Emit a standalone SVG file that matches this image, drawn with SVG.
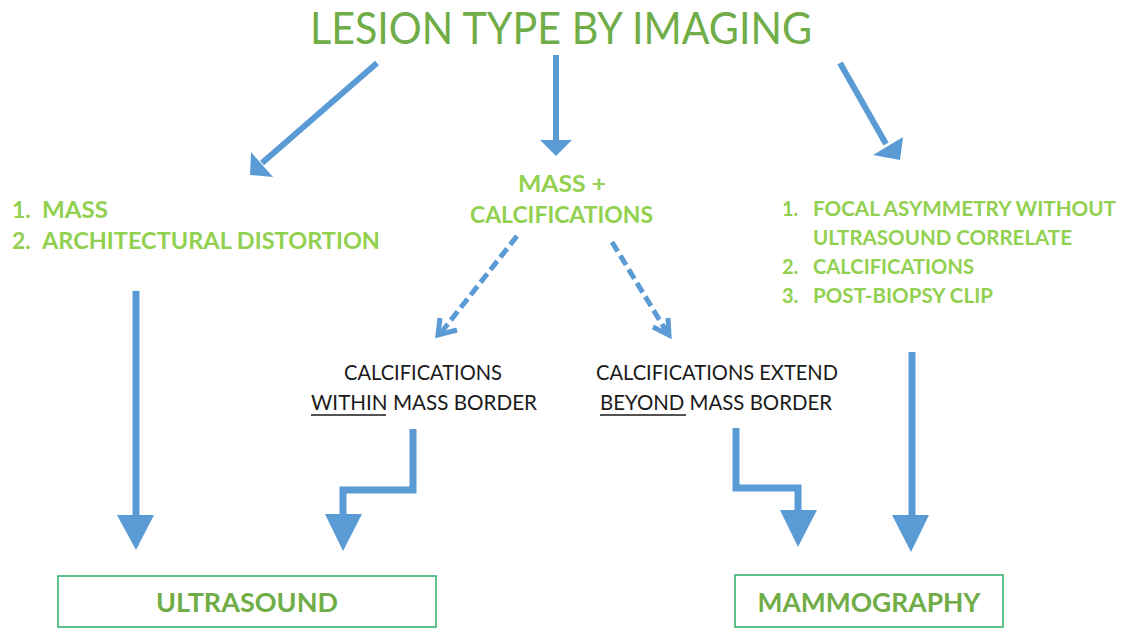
<svg xmlns="http://www.w3.org/2000/svg" width="1134" height="629" viewBox="0 0 1134 629">
<style>
.title{font-family:Lato,"Liberation Sans",sans-serif;font-size:44px;fill:#70AD47}
.g{font-family:Lato,"Liberation Sans",sans-serif;font-weight:bold;fill:#92D050}
.k{font-family:Lato,"Liberation Sans",sans-serif;font-size:22px;fill:#1a1a1a}
.box{fill:#fff;stroke:#2EAD66;stroke-width:1.5}
.bt{font-family:Lato,"Liberation Sans",sans-serif;font-weight:bold;font-size:27px;fill:#70AD47}
.sh{stroke:#5B9BD5;fill:none}
.hd{fill:#5B9BD5}
.ds{stroke:#5B9BD5;stroke-width:5;fill:none;stroke-dasharray:11 5}
.oh{stroke:#5B9BD5;stroke-width:5;fill:none}
</style>
<rect width="1134" height="629" fill="#fff"/>
<g id="title"><text class="title" x="310" y="44" textLength="502" lengthAdjust="spacingAndGlyphs">LESION TYPE BY IMAGING</text></g>
<g id="left-list">
<text class="g" x="12" y="218" font-size="23">1.</text><text class="g" x="42" y="218" font-size="23" textLength="66" lengthAdjust="spacingAndGlyphs">MASS</text>
<text class="g" x="12" y="249" font-size="23">2.</text><text class="g" x="42" y="249" font-size="23" textLength="338" lengthAdjust="spacingAndGlyphs">ARCHITECTURAL DISTORTION</text>
</g>
<g id="middle">
<text class="g" x="518" y="192" font-size="23" textLength="88" lengthAdjust="spacingAndGlyphs">MASS +</text>
<text class="g" x="470" y="223" font-size="23" textLength="183" lengthAdjust="spacingAndGlyphs">CALCIFICATIONS</text>
</g>
<g id="right-list">
<text class="g" x="782" y="216" font-size="20">1.</text><text class="g" x="813" y="216" font-size="20" textLength="303" lengthAdjust="spacingAndGlyphs">FOCAL ASYMMETRY WITHOUT</text>
<text class="g" x="813" y="245" font-size="20" textLength="259" lengthAdjust="spacingAndGlyphs">ULTRASOUND CORRELATE</text>
<text class="g" x="782" y="274" font-size="20">2.</text><text class="g" x="813" y="274" font-size="20" textLength="161" lengthAdjust="spacingAndGlyphs">CALCIFICATIONS</text>
<text class="g" x="782" y="303" font-size="20">3.</text><text class="g" x="813" y="303" font-size="20" textLength="180" lengthAdjust="spacingAndGlyphs">POST-BIOPSY CLIP</text>
</g>
<g id="within">
<text class="k" x="344" y="380" textLength="158" lengthAdjust="spacingAndGlyphs">CALCIFICATIONS</text>
<text class="k" x="311" y="410" textLength="226" lengthAdjust="spacingAndGlyphs">WITHIN MASS BORDER</text>
<line x1="311" y1="415" x2="386" y2="415" stroke="#1a1a1a" stroke-width="1.5"/>
</g>
<g id="beyond">
<text class="k" x="596" y="380" textLength="242" lengthAdjust="spacingAndGlyphs">CALCIFICATIONS EXTEND</text>
<text class="k" x="600" y="410" textLength="232" lengthAdjust="spacingAndGlyphs">BEYOND MASS BORDER</text>
<line x1="600" y1="415" x2="686" y2="415" stroke="#1a1a1a" stroke-width="1.5"/>
</g>
<g id="ultrasound"><rect class="box" x="58" y="576" width="378" height="51"/><text class="bt" x="247" y="612" text-anchor="middle">ULTRASOUND</text></g>
<g id="mammography"><rect class="box" x="735" y="575" width="268" height="52"/><text class="bt" x="869" y="612" text-anchor="middle" textLength="223" lengthAdjust="spacingAndGlyphs">MAMMOGRAPHY</text></g>
<g id="connectors">
<line class="sh" stroke-width="6" x1="377" y1="63" x2="262" y2="163"/>
<polygon class="hd" points="250,175 251,152 273,177"/>
<line class="sh" stroke-width="6" x1="556" y1="55" x2="556" y2="141"/>
<polygon class="hd" points="540,140 572,140 556,156"/>
<line class="sh" stroke-width="6" x1="840" y1="63" x2="886" y2="144"/>
<polygon class="hd" points="900,160 873,155 903,137"/>
<path class="ds" d="M517,236 L440,334"/>
<path class="oh" d="M440,318 L438,335 L457,330"/>
<path class="ds" d="M612,242 L668,334"/>
<path class="oh" d="M653,327 L669,335 L668,318"/>
<line class="sh" stroke-width="7" x1="136" y1="291" x2="136" y2="516"/>
<polygon class="hd" points="117,515 154,515 136,550"/>
<path class="sh" stroke-width="7" d="M413,429 V490 H343 V515"/>
<polygon class="hd" points="325,514 362,514 343,551"/>
<path class="sh" stroke-width="7" d="M736,428 V488 H798 V511"/>
<polygon class="hd" points="780,510 817,510 798,547"/>
<line class="sh" stroke-width="7" x1="912" y1="352" x2="912" y2="516"/>
<polygon class="hd" points="892,515 929,515 911,552"/>
</g>
</svg>
